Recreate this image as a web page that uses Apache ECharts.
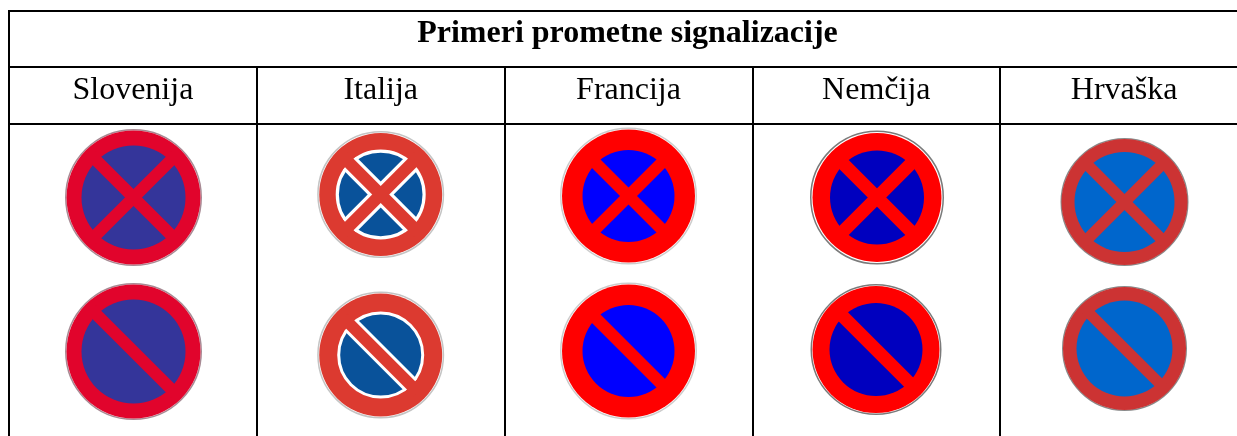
<!DOCTYPE html>
<html>
<head>
<meta charset="utf-8">
<title>Primeri prometne signalizacije</title>
<script src="https://cdn.jsdelivr.net/npm/echarts@6/dist/echarts.min.js"></script>
<style>
    html, body { margin: 0; padding: 0; background: #fff; }
    #chart { width: 1237px; height: 436px; }
</style>
</head>
<body>
<div id="chart"></div>
<script>
'use strict';

var heading = 'Primeri prometne signalizacije';
var countries = ['Slovenija', 'Italija', 'Francija', 'Nemčija', 'Hrvaška'];
var signTypes = ['cross', 'stripe'];

// colours per country
var palette = {
    Slovenija: { rim: '#a88a94', red: '#e1042c', blue: '#34359a' },
    Italija: { rim: '#c4c4c4', red: '#dc3a30', blue: '#09529a', edge: '#ffffff' },
    Francija: { rim: '#cccccc', red: '#ff0000', blue: '#0000ff' },
    Nemčija: { rim: '#7a7a7a', red: '#ff0000', blue: '#0000bf' },
    Hrvaška: { rim: '#8a8a8a', red: '#cc3333', blue: '#0066cc' }
};

// pixel offsets and radii for each picture, the source images are not aligned
var layout = {
    Slovenija: [
        { dx: 0.6, dy: -4.5, rim: 68.5, red: 67, blue: 52, bar: 12 },
        { dx: 0.6, dy: -6.5, rim: 68.5, red: 67, blue: 52, bar: 12 }
    ],
    Italija: [
        { dx: 0, dy: -7.5, rim: 63.5, red: 61.5, blue: 45, bar: 12, edge: 3.2 },
        { dx: 0, dy: -3, rim: 63.5, red: 61.5, blue: 43.5, bar: 11.5, edge: 3 }
    ],
    Francija: [
        { dx: 0, dy: -6, rim: 68.5, red: 66.5, blue: 46, bar: 12 },
        { dx: 0, dy: -7, rim: 68.5, red: 66.5, blue: 46, bar: 12 }
    ],
    Nemčija: [
        { dx: 0.7, dy: -4.5, rim: 67, red: 64.5, blue: 47, bar: 13 },
        { dx: -0.3, dy: -8.5, rim: 65.5, red: 63.5, blue: 46.5, bar: 13 }
    ],
    Hrvaška: [
        { dx: 0.4, dy: 0, rim: 64, red: 63, blue: 50, bar: 11.5 },
        { dx: 0.4, dy: -9.5, rim: 62.5, red: 61.5, blue: 48, bar: 11 }
    ]
};

function getSigns() {
    var signs = [];
    countries.forEach(function (country) {
        signTypes.forEach(function (type) {
            signs.push([country, type]);
        });
    });
    return signs;
}

function getBar(cx, cy, radius, dirX, width, color) {
    var d = radius * Math.SQRT1_2;
    return {
        type: 'line',
        shape: { x1: cx - d * dirX, y1: cy - d, x2: cx + d * dirX, y2: cy + d },
        style: { stroke: color, lineWidth: width, fill: null }
    };
}

function renderSign(params, api) {
    var country = countries[api.value(0)];
    var row = api.value(1);
    var type = signTypes[row];
    var colors = palette[country];
    var size = layout[country][row];
    var point = api.coord([api.value(0), api.value(1)]);
    var cx = point[0] + size.dx;
    var cy = point[1] + size.dy;
    var dirs = type === 'cross' ? [1, -1] : [1];
    var children = [];

    children.push({
        type: 'circle',
        shape: { cx: cx, cy: cy, r: size.rim - 0.75 },
        style: { fill: '#ffffff', stroke: colors.rim, lineWidth: 1.5 }
    });
    children.push({
        type: 'circle',
        shape: { cx: cx, cy: cy, r: size.red },
        style: { fill: colors.red }
    });
    children.push({
        type: 'circle',
        shape: { cx: cx, cy: cy, r: size.blue - (size.edge || 0) / 2 },
        style: {
            fill: colors.blue,
            stroke: colors.edge || null,
            lineWidth: size.edge || 0
        }
    });

    // italian signs have a white outline round the red bars
    if (size.edge) {
        var halfWidth = size.bar / 2 + size.edge;
        var reach = Math.sqrt(size.blue * size.blue - halfWidth * halfWidth);
        dirs.forEach(function (dir) {
            children.push(getBar(cx, cy, reach, dir, halfWidth * 2, colors.edge));
        });
    }
    dirs.forEach(function (dir) {
        children.push(getBar(cx, cy, (size.blue + size.red) / 2, dir, size.bar, colors.red));
    });

    return { type: 'group', children: children };
}

function getRule(x1, y1, x2, y2) {
    return {
        type: 'line',
        shape: { x1: x1, y1: y1, x2: x2, y2: y2 },
        style: { stroke: '#000000', lineWidth: 2 },
        silent: true
    };
}

var chart = echarts.init(document.getElementById('chart'));

chart.setOption({
    animation: false,
    backgroundColor: '#ffffff',
    title: {
        text: heading,
        left: 622.5,
        top: 13,
        textAlign: 'center',
        textStyle: {
            fontFamily: '"Liberation Serif"',
            fontSize: 32,
            fontWeight: 'bold',
            color: '#000000'
        }
    },
    grid: { left: 9, top: 124, width: 1239, height: 312, outerBoundsMode: 'none' },
    xAxis: {
        type: 'category',
        position: 'top',
        data: countries,
        axisLine: { show: true, lineStyle: { color: '#000000', width: 2 } },
        axisTick: { show: true, length: 57, lineStyle: { color: '#000000', width: 2 } },
        axisLabel: {
            margin: 17,
            color: '#000000',
            fontFamily: '"Liberation Serif"',
            fontSize: 32
        },
        splitLine: { show: true, lineStyle: { color: '#000000', width: 2 } }
    },
    yAxis: {
        type: 'category',
        inverse: true,
        data: signTypes,
        axisLine: { show: false },
        axisTick: { show: false },
        axisLabel: { show: false },
        splitLine: { show: false }
    },
    graphic: [
        getRule(9, 11, 1237, 11),
        getRule(9, 67, 1237, 67),
        getRule(9, 10, 9, 68)
    ],
    series: [{
        type: 'custom',
        coordinateSystem: 'cartesian2d',
        clip: false,
        silent: true,
        encode: { x: 0, y: 1 },
        data: getSigns(),
        renderItem: renderSign
    }]
});
</script>
</body>
</html>
